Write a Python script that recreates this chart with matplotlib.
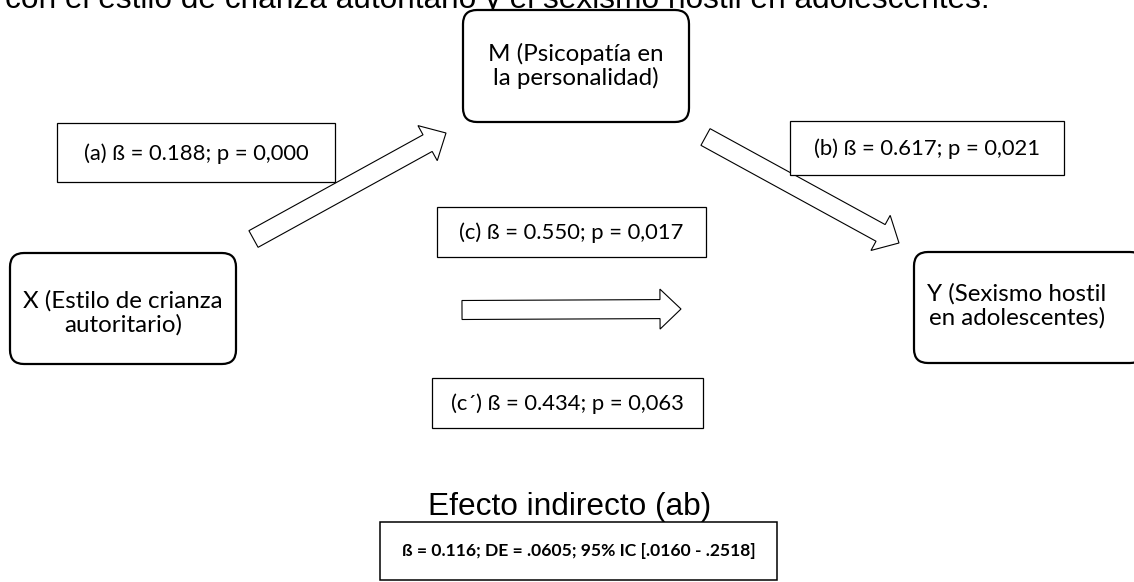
import matplotlib.pyplot as plt
import numpy as np
from matplotlib.patches import FancyBboxPatch, Rectangle, Polygon

# Nodes of the mediation model
node_names = ['M', 'X', 'Y']
node_texts = ['M (Psicopatía en\nla personalidad)',
              'X (Estilo de crianza\nautoritario)',
              'Y (Sexismo hostil\nen adolescentes)']

# Path coefficients
path_labels = ['(a) ß = 0.188; p = 0,000',
               '(b) ß = 0.617; p = 0,021',
               '(c) ß = 0.550; p = 0,017',
               '(c´) ß = 0.434; p = 0,063']

title_text = 'con el estilo de crianza autoritario y el sexismo hostil en adolescentes.'
indirect_title = 'Efecto indirecto (ab)'
indirect_text = 'ß = 0.116; DE = .0605; 95% IC [.0160 - .2518]'

# layout in pixel coordinates (x, y from top)
node_boxes = {'M': (463, 10, 226, 112), 'X': (10, 253, 226, 111), 'Y': (914, 252, 230, 111)}
node_text_pos = {'M': (576, 66), 'X': (123, 313), 'Y': (1017, 306)}
label_boxes = [(57, 123, 278, 59), (790, 121, 274, 54), (437, 207, 269, 50), (432, 378, 271, 50)]
arrows = [((253.5, 239), (446, 133)),
          ((705.5, 137), (899, 243)),
          ((462, 310), (681, 309))]

W, H = 1134, 582
fig = plt.figure(figsize=(W / 100, H / 100), dpi=100)
ax = fig.add_axes([0, 0, 1, 1])
ax.set_xlim(0, W)
ax.set_ylim(H, 0)
ax.axis('off')

calibri = 'Lato'
arial = 'Liberation Sans'


def block_arrow(p0, p1, shaft=19, head_w=40, head_l=21):
    p0, p1 = np.array(p0, float), np.array(p1, float)
    d = p1 - p0
    u = d / np.hypot(*d)
    n = np.array([-u[1], u[0]])
    base = p1 - u * head_l
    pts = [p0 + n * shaft / 2, base + n * shaft / 2, base + n * head_w / 2, p1,
           base - n * head_w / 2, base - n * shaft / 2, p0 - n * shaft / 2]
    return Polygon(pts, closed=True, facecolor='white', edgecolor='black', lw=0.8)


# partially visible caption line at the top (drawn first, boxes sit over it)
ax.text(5, 8, title_text, ha='left', va='baseline', fontsize=22.8, family=arial, zorder=1)

for name, txt in zip(node_names, node_texts):
    x, y, w, h = node_boxes[name]
    ax.add_patch(FancyBboxPatch((x, y), w, h, boxstyle='round,pad=0,rounding_size=14',
                                facecolor='white', edgecolor='black', lw=1.6, zorder=2))
    tx, ty = node_text_pos[name]
    ax.text(tx, ty, txt, ha='center', va='center', fontsize=17.4, family=calibri,
            linespacing=1.15, zorder=3)

for p0, p1 in arrows:
    ax.add_patch(block_arrow(p0, p1))

for (x, y, w, h), txt in zip(label_boxes, path_labels):
    ax.add_patch(Rectangle((x, y), w, h, facecolor='white', edgecolor='black', lw=0.9))
    ax.text(x + w / 2, y + h / 2 + 1, txt, ha='center', va='center', fontsize=15.8,
            family=calibri)

ax.text(570, 515, indirect_title, ha='center', va='baseline', fontsize=22.8, family=arial)
ax.add_patch(Rectangle((380, 522), 397, 58, facecolor='none', edgecolor='black', lw=1.1))
ax.text(579, 551, indirect_text, ha='center', va='center', fontsize=12.6, family=calibri,
        fontweight='bold')

fig.savefig('out.png', dpi=100)
